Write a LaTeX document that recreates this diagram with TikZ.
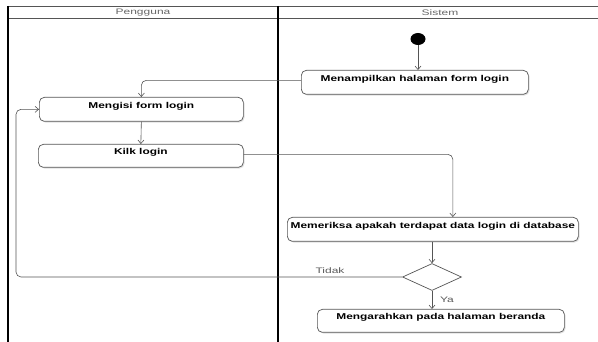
\documentclass[tikz,border=0pt]{standalone}
\usepackage{fontspec}
\newfontfamily\boxfont{Liberation Sans}[FakeStretch=1.4]
\newfontfamily\lanefont{Liberation Sans}[FakeStretch=1.5]
\usetikzlibrary{arrows.meta,shapes.geometric,shadows,calc}
\definecolor{lnc}{HTML}{555555}
\tikzset{
  actbox/.style={draw=lnc, line width=0.7pt, rounded corners=5pt, fill=white,
    drop shadow={opacity=0.25, shadow xshift=1.2pt, shadow yshift=-1.2pt},
    anchor=north west, inner sep=0pt, text height=6pt, text depth=8pt,
    font=\boxfont\bfseries\fontsize{8.5}{10}\selectfont},
  flow/.style={draw=lnc, line width=0.6pt, rounded corners=5pt, -{Straight Barb[length=3.5pt,width=6pt]}},
  lanelbl/.style={font=\lanefont\fontsize{8}{9}\selectfont, text=black!60, inner sep=0pt},
  edgelbl/.style={font=\lanefont\fontsize{8}{9}\selectfont, text=black!65, inner sep=0pt},
}
\begin{document}
\begin{tikzpicture}[x=1pt,y=-1pt]
\useasboundingbox (0,0) rectangle (598,342);
% swimlanes
\draw[lnc, line width=0.8pt] (8,6) -- (598,6);
\draw[lnc, line width=0.8pt] (8,18.5) -- (598,18.5);
\draw[black, line width=1.6pt] (8,6) -- (8,342);
\draw[black, line width=1.6pt] (278,6) -- (278,342);
\node[lanelbl] (lane1) at (143,12.5) {Pengguna};
\node[lanelbl] (lane2) at (440,12.5) {Sistem};
% nodes
\node[ellipse, fill=black, minimum width=15pt, minimum height=12pt, inner sep=0pt] (start) at (418,39) {};
\node[actbox, minimum width=227pt, minimum height=24pt] (tampil) at (301,70) {Menampilkan halaman form login};
\node[actbox, minimum width=204pt, minimum height=24pt] (isi) at (39,97) {Mengisi form login};
\node[actbox, minimum width=205pt, minimum height=23pt] (klik) at (38,144) {Kilk login};
\node[actbox, minimum width=291pt, minimum height=24pt] (periksa) at (287,217) {Memeriksa apakah terdapat data login di database};
\node[diamond, draw=lnc, line width=0.7pt, fill=white, minimum width=59pt, minimum height=27pt, inner sep=0pt] (dec) at (432,277) {};
\node[actbox, minimum width=247pt, minimum height=23pt] (arah) at (317,309) {Mengarahkan pada halaman beranda};
\coordinate (lp) at (16,200);
% connectors
\draw[flow] (start) -- (start |- tampil.north);
\draw[flow] ([yshift=2pt]tampil.west) -| (isi.north);
\draw[flow] (isi.south) -- (klik.north);
\draw[flow] ([yshift=1.5pt]klik.east) -| ([xshift=20pt]periksa.north);
\draw[flow] (periksa.south -| dec.north) -- (dec.north);
\draw[flow] (dec.west) -| (lp) |- (isi.west);
\draw[flow] (dec.south) -- (dec.south |- arah.north);
\node[edgelbl] (tidak) at (330,270.5) {Tidak};
\node[edgelbl] (ya) at (447,299.5) {Ya};
\end{tikzpicture}
\end{document}
